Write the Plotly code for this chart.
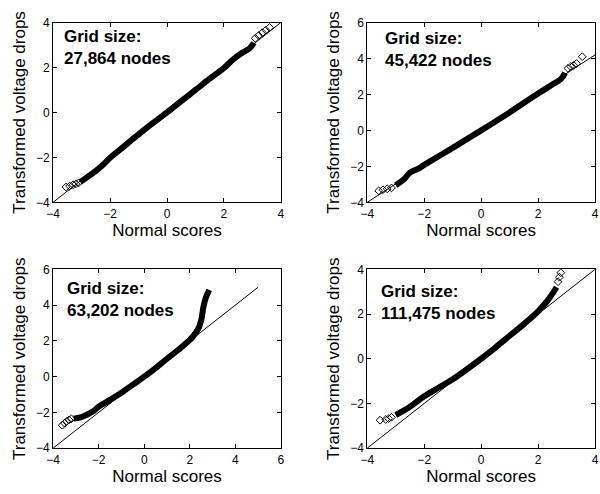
import plotly.graph_objects as go

# ---- data ----
titles = ["Grid size:<br>27,864 nodes", "Grid size:<br>45,422 nodes",
          "Grid size:<br>63,202 nodes", "Grid size:<br>111,475 nodes"]

p1_body_x = [-3.05, -2.8, -2.5, -2.2, -2.0, -1.5, -1.0, -0.5, 0.0, 0.5, 1.0, 1.5, 2.0, 2.3, 2.6, 2.9, 3.05]
p1_body_y = [-3.1, -2.88, -2.6, -2.27, -2.02, -1.5, -0.98, -0.48, 0.0, 0.5, 1.0, 1.5, 1.98, 2.33, 2.62, 2.85, 3.1]
p1_tail_x = [-3.55, -3.42, -3.3, -3.2, -3.1, 3.1, 3.22, 3.35, 3.47, 3.6]
p1_tail_y = [-3.32, -3.28, -3.22, -3.18, -3.13, 3.3, 3.42, 3.55, 3.66, 3.78]
p1_ref_x = [-4, 4]
p1_ref_y = [-4, 4]

p2_body_x = [-3.0, -2.7, -2.5, -2.2, -2.0, -1.0, 0.0, 1.0, 2.0, 2.5, 2.8, 2.95]
p2_body_y = [-3.05, -2.7, -2.35, -2.12, -1.92, -0.97, 0.0, 1.0, 2.05, 2.55, 2.85, 3.2]
p2_tail_x = [-3.6, -3.45, -3.3, -3.15, 3.05, 3.15, 3.25, 3.35, 3.55]
p2_tail_y = [-3.36, -3.3, -3.25, -3.2, 3.45, 3.55, 3.62, 3.72, 4.1]
p2_ref_x = [-4, 4]
p2_ref_y = [-4, 4.2]

p3_body_x = [-3.1, -2.8, -2.5, -2.2, -2.0, -1.5, -1.0, -0.5, 0.0, 0.5, 1.0, 1.5, 2.0, 2.2, 2.4, 2.5, 2.55, 2.6, 2.7, 2.8, 2.85]
p3_body_y = [-2.35, -2.28, -2.12, -1.9, -1.68, -1.3, -0.9, -0.45, 0.0, 0.48, 1.0, 1.5, 2.05, 2.35, 2.75, 3.15, 3.5, 3.9, 4.4, 4.7, 4.85]
p3_tail_x = [-3.6, -3.5, -3.4, -3.3, -3.2]
p3_tail_y = [-2.72, -2.6, -2.5, -2.42, -2.36]
p3_ref_x = [-4, 5]
p3_ref_y = [-4, 5]

p4_body_x = [-3.0, -2.5, -2.0, -1.5, -1.0, -0.5, 0.0, 0.5, 1.0, 1.5, 2.0, 2.3, 2.5, 2.65]
p4_body_y = [-2.52, -2.15, -1.68, -1.3, -0.92, -0.47, 0.0, 0.5, 1.03, 1.55, 2.12, 2.55, 2.9, 3.2]
p4_tail_x = [-3.55, -3.35, -3.25, -3.15, 2.7, 2.75, 2.8]
p4_tail_y = [-2.75, -2.72, -2.68, -2.62, 3.45, 3.65, 3.85]
p4_ref_x = [-4, 4]
p4_ref_y = [-4, 4]

x_ranges = [[-4, 4], [-4, 4], [-4, 6], [-4, 4]]
y_ranges = [[-4, 4], [-4, 6], [-4, 6], [-4, 4]]
x_ticks = [[-4, -2, 0, 2, 4], [-4, -2, 0, 2, 4], [-4, -2, 0, 2, 4, 6], [-4, -2, 0, 2, 4]]
y_ticks = [[-4, -2, 0, 2, 4], [-4, -2, 0, 2, 4, 6], [-4, -2, 0, 2, 4, 6], [-4, -2, 0, 2, 4]]
x_title = "Normal scores"
y_title = "Transformed voltage drops"

panels = [
    (p1_body_x, p1_body_y, p1_tail_x, p1_tail_y, p1_ref_x, p1_ref_y),
    (p2_body_x, p2_body_y, p2_tail_x, p2_tail_y, p2_ref_x, p2_ref_y),
    (p3_body_x, p3_body_y, p3_tail_x, p3_tail_y, p3_ref_x, p3_ref_y),
    (p4_body_x, p4_body_y, p4_tail_x, p4_tail_y, p4_ref_x, p4_ref_y),
]

# ---- layout (pixel boxes of each axes) ----
W, H = 600, 494
boxes = [(47, 279, 16, 201), (367, 599, 16, 201), (47, 279, 270, 454), (367, 599, 270, 454)]
ann_pos = [(0.04, 0.985), (0.07, 0.975), (0.051, 0.955), (0.053, 0.94)]

FONT = "Liberation Sans, Arial, Helvetica, sans-serif"
fig = go.Figure()
layout = dict(width=W, height=H, margin=dict(l=0, r=0, t=0, b=0),
              paper_bgcolor="white", plot_bgcolor="white", showlegend=False,
              font=dict(family=FONT, color="black"))
annotations = []
for i, (bx, by, tx, ty, rx, ry) in enumerate(panels):
    n = "" if i == 0 else str(i + 1)
    xa, ya = "x" + n, "y" + n
    fig.add_trace(go.Scatter(x=rx, y=ry, mode="lines", line=dict(color="black", width=1),
                             xaxis=xa, yaxis=ya, hoverinfo="skip"))
    fig.add_trace(go.Scatter(x=bx, y=by, mode="lines", line=dict(color="black", width=6, shape="spline"),
                             xaxis=xa, yaxis=ya))
    fig.add_trace(go.Scatter(x=tx, y=ty, mode="markers",
                             marker=dict(symbol="diamond-open", size=6, color="black", line=dict(width=1)),
                             xaxis=xa, yaxis=ya))
    x0, x1, y0, y1 = boxes[i]
    common = dict(showline=True, linecolor="black", linewidth=1, mirror="ticks", ticks="inside",
                  ticklen=4, tickcolor="black", showgrid=False, zeroline=False,
                  tickfont=dict(size=12, family=FONT), fixedrange=True)
    layout["xaxis" + n] = dict(common, domain=[x0 / W, x1 / W], range=x_ranges[i], tickvals=x_ticks[i],
                               anchor=ya, title=dict(text=x_title, font=dict(size=17), standoff=2))
    layout["yaxis" + n] = dict(common, domain=[1 - y1 / H, 1 - y0 / H], range=y_ranges[i], tickvals=y_ticks[i],
                               anchor=xa, title=dict(text=y_title, font=dict(size=17), standoff=6))
    ax, ay = ann_pos[i]
    annotations.append(dict(text="<b>" + titles[i] + "</b>", xref=xa + " domain", yref=ya + " domain",
                            x=ax, y=ay, xanchor="left", yanchor="top", showarrow=False, align="left",
                            font=dict(size=17, family=FONT, color="black")))
layout["annotations"] = annotations
fig.update_layout(**layout)
fig.write_html("out.html")
